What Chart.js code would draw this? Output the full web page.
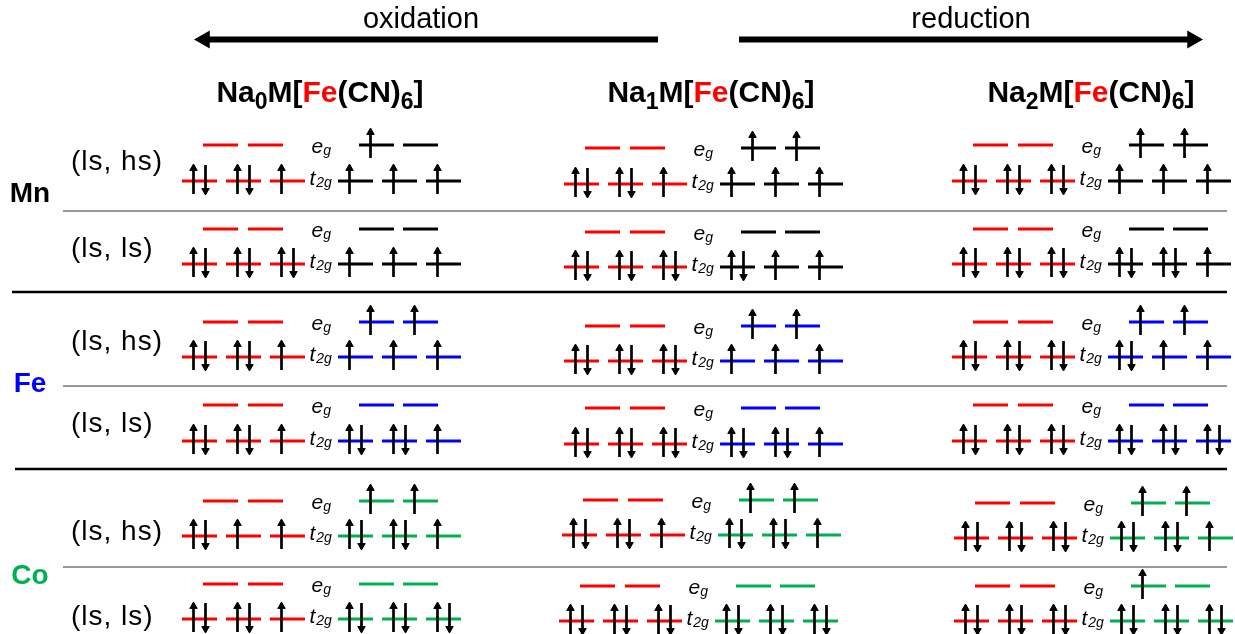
<!DOCTYPE html>
<html lang="en">
<head>
  <meta charset="UTF-8" />
  <title>NaxM[Fe(CN)6] - configurações eletrônicas</title>
  <script src="https://cdn.jsdelivr.net/npm/chart.js"></script>
  <style>
    html, body { margin: 0; padding: 0; background: #fff; }
    .chart-container { width: 1235px; height: 634px; position: relative; }
  </style>
</head>
<body>
  <div class="chart-container"><canvas id="chartOrbitais"></canvas></div>

  <script>
    // ---- dados ----
    const sodium = ['0', '1', '2'];                 // Na_x, one column each
    const metals = ['Mn', 'Fe', 'Co'];
    const spinLabels = ['(ls, hs)', '(ls, ls)'];
    const arrowLabels = ['oxidation', 'reduction'];

    // occupancy per orbital: 0 empty, 1 spin up, 2 paired
    // rows: Mn(ls,hs), Mn(ls,ls), Fe(ls,hs), Fe(ls,ls), Co(ls,hs), Co(ls,ls); cols: Na0, Na1, Na2
    const feEg = [
      [[0, 0], [0, 0], [0, 0]],
      [[0, 0], [0, 0], [0, 0]],
      [[0, 0], [0, 0], [0, 0]],
      [[0, 0], [0, 0], [0, 0]],
      [[0, 0], [0, 0], [0, 0]],
      [[0, 0], [0, 0], [0, 0]]
    ];
    const feT2g = [
      [[2, 2, 1], [2, 2, 1], [2, 2, 2]],
      [[2, 2, 2], [2, 2, 2], [2, 2, 2]],
      [[2, 2, 1], [2, 2, 2], [2, 2, 2]],
      [[2, 2, 1], [2, 2, 2], [2, 2, 2]],
      [[2, 1, 1], [2, 2, 1], [2, 2, 2]],
      [[2, 2, 1], [2, 2, 2], [2, 2, 2]]
    ];
    const mEg = [
      [[1, 0], [1, 1], [1, 1]],
      [[0, 0], [0, 0], [0, 0]],
      [[1, 1], [1, 1], [1, 1]],
      [[0, 0], [0, 0], [0, 0]],
      [[1, 1], [1, 1], [1, 1]],
      [[0, 0], [0, 0], [1, 0]]
    ];
    const mT2g = [
      [[1, 1, 1], [1, 1, 1], [1, 1, 1]],
      [[1, 1, 1], [2, 1, 1], [2, 2, 1]],
      [[1, 1, 1], [1, 1, 1], [2, 1, 1]],
      [[2, 2, 1], [2, 2, 1], [2, 2, 2]],
      [[2, 2, 1], [2, 2, 1], [2, 2, 1]],
      [[2, 2, 2], [2, 2, 2], [2, 2, 2]]
    ];

    // ---- layout (unidades do eixo = px) ----
    const W = 1235, H = 634;
    const colX = [199.5, 581.5, 969.5];
    const titleX = [320, 711, 1091];
    const egY = [145, 229, 322, 405, 501, 584];
    const t2gY = [181, 264, 357, 441, 536, 619];
    const cellDx = [[0, 0, 0], [0, 0, 0], [0, 0, 0], [0, 0, 0], [0, -2, 2], [0, -5, 2]];
    const cellDy = [[0, 3, 0], [0, 3, 0], [0, 4, 0], [0, 3, 0], [0, -1, 2], [0, 2, 2]];
    const feEgDx = [21, 66], feT2gDx = [0, 44, 88];
    const mEgDx = [177, 221], mT2gDx = [156, 200, 244];
    const labelDx = 112;
    const spinY = [170, 257, 350, 432, 540, 625];
    const metalY = [202, 392, 584];
    const thinSep = [211, 386, 567];
    const thickSep = [[12, 292], [15, 469]];
    const arrowY = 39.5, BIG_R = 10.5;
    const metalCor = ['#000000', '#0000ff', '#00b050'];
    const VERMELHO = '#ff0000';
    const HALF = 17.5, R = 4.3;
    const FONT = '"Liberation Sans", Arial, sans-serif';

    const rowMetal = [0, 0, 1, 1, 2, 2];

    const redLines = [], mLines = [[], [], []], shafts = [], heads = [], headRot = [];

    function seg(arr, cx, y) {
      arr.push({ x: cx - HALF, y: y }, { x: cx + HALF, y: y }, { x: cx + HALF, y: null });
    }
    function spins(n, cx, y) {
      if (n >= 1) {
        shafts.push({ x: cx - 6, y: y + 13 }, { x: cx - 6, y: y - 17 + R }, { x: cx - 6, y: null });
        heads.push({ x: cx - 6, y: y - 17 + R }); headRot.push(0);
      }
      if (n === 2) {
        shafts.push({ x: cx + 6, y: y - 16 }, { x: cx + 6, y: y + 14 - R }, { x: cx + 6, y: null });
        heads.push({ x: cx + 6, y: y + 14 - R }); headRot.push(180);
      }
    }

    for (let r = 0; r < 6; r++) {
      for (let c = 0; c < 3; c++) {
        const x0 = colX[c] + cellDx[r][c];
        const ye = egY[r] + cellDy[r][c], yt = t2gY[r] + cellDy[r][c];
        feEgDx.forEach((dx, k) => { seg(redLines, x0 + dx, ye); spins(feEg[r][c][k], x0 + dx, ye); });
        feT2gDx.forEach((dx, k) => { seg(redLines, x0 + dx, yt); spins(feT2g[r][c][k], x0 + dx, yt); });
        mEgDx.forEach((dx, k) => { seg(mLines[rowMetal[r]], x0 + dx, ye); spins(mEg[r][c][k], x0 + dx, ye); });
        mT2gDx.forEach((dx, k) => { seg(mLines[rowMetal[r]], x0 + dx, yt); spins(mT2g[r][c][k], x0 + dx, yt); });
      }
    }

    const thinLines = [], thickLines = [];
    thinSep.forEach(y => thinLines.push({ x: 63, y: y }, { x: 1227, y: y }, { x: 1227, y: null }));
    thickSep.forEach(s => thickLines.push({ x: s[0], y: s[1] }, { x: 1227, y: s[1] }, { x: 1227, y: null }));

    // setas oxidation (esq.) e reduction (dir.)
    const bigShafts = [{ x: 658, y: arrowY }, { x: 194 + BIG_R, y: arrowY }, { x: 194, y: null },
                       { x: 739, y: arrowY }, { x: 1203 - BIG_R, y: arrowY }];
    const bigHeads = [{ x: 194 + BIG_R, y: arrowY }, { x: 1203 - BIG_R, y: arrowY }];

    function linha(label, data, cor, larg, ordem) {
      return { label: label, data: data, showLine: true, borderColor: cor, borderWidth: larg,
               pointRadius: 0, spanGaps: false, tension: 0, fill: false, order: ordem, clip: false };
    }

    function richText(ctx, parts, cx, baseline) {
      let total = 0;
      parts.forEach(p => { ctx.font = p.font; p.w = ctx.measureText(p.t).width; total += p.w; });
      let x = cx - total / 2;
      parts.forEach(p => {
        ctx.font = p.font;
        ctx.fillStyle = p.c || '#000';
        ctx.fillText(p.t, x, baseline + (p.dy || 0));
        x += p.w;
      });
    }

    const rotulos = {
      id: 'rotulos',
      afterDatasetsDraw(chart) {
        const ctx = chart.ctx;
        const px = v => chart.scales.x.getPixelForValue(v);
        const py = v => chart.scales.y.getPixelForValue(v);
        ctx.save();
        ctx.textBaseline = 'alphabetic';
        ctx.fillStyle = '#000';
        ctx.font = '29px ' + FONT;
        ctx.textAlign = 'center';
        ctx.fillText(arrowLabels[0], px(421), py(28));
        ctx.fillText(arrowLabels[1], px(971), py(28));
        ctx.textAlign = 'left';

        const big = 'bold 30px ' + FONT, sub = 'bold 23px ' + FONT;
        sodium.forEach((n, i) => {
          richText(ctx, [
            { t: 'Na', font: big }, { t: n, font: sub, dy: 6.5 }, { t: 'M[', font: big },
            { t: 'Fe', font: big, c: VERMELHO }, { t: '(CN)', font: big },
            { t: '6', font: sub, dy: 6.5 }, { t: ']', font: big }
          ], px(titleX[i]), py(102));
        });

        ctx.textAlign = 'center';
        ctx.font = 'bold 28px ' + FONT;
        metals.forEach((m, i) => {
          ctx.fillStyle = metalCor[i];
          ctx.fillText(m, px(30), py(metalY[i]));
        });

        ctx.textAlign = 'left';
        ctx.fillStyle = '#000';
        ctx.font = '28px ' + FONT;
        if ('letterSpacing' in ctx) ctx.letterSpacing = '1px';
        spinY.forEach((y, r) => ctx.fillText(spinLabels[r % 2], px(71), py(y)));
        if ('letterSpacing' in ctx) ctx.letterSpacing = '0px';

        const it = 'italic 21px ' + FONT, itSub = 'italic 14px ' + FONT;
        for (let r = 0; r < 6; r++) {
          for (let c = 0; c < 3; c++) {
            const lx = px(colX[c] + cellDx[r][c] + labelDx);
            const ye = egY[r] + cellDy[r][c], yt = t2gY[r] + cellDy[r][c];
            ctx.font = it; ctx.fillText('e', lx, py(ye + 8));
            let w = ctx.measureText('e').width;
            ctx.font = itSub; ctx.fillText('g', lx + w, py(ye + 10));
            ctx.font = it; ctx.fillText('t', lx - 2, py(yt + 4));
            w = ctx.measureText('t').width;
            ctx.font = itSub; ctx.fillText('2g', lx - 2 + w + 1, py(yt + 6));
          }
        }
        ctx.restore();
      }
    };

    new Chart(document.getElementById('chartOrbitais').getContext('2d'), {
      type: 'scatter',
      data: {
        datasets: [
          linha('Fe (low spin)', redLines, VERMELHO, 3, 3),
          linha('Mn', mLines[0], metalCor[0], 3, 3),
          linha('Fe', mLines[1], metalCor[1], 3, 3),
          linha('Co', mLines[2], metalCor[2], 3, 3),
          linha('separadores', thinLines, '#777777', 1.5, 4),
          linha('separadores grossos', thickLines, '#000000', 2.5, 4),
          linha('eletrons', shafts, '#000000', 2.7, 1),
          {
            label: 'pontas', data: heads, showLine: false, order: 0, clip: false,
            pointStyle: 'triangle', pointRadius: R, pointRotation: headRot,
            pointBackgroundColor: '#000', pointBorderColor: '#000', pointBorderWidth: 1
          },
          linha('setas', bigShafts, '#000000', 6, 1),
          {
            label: 'pontas setas', data: bigHeads, showLine: false, order: 0, clip: false,
            pointStyle: 'triangle', pointRadius: BIG_R, pointRotation: [-90, 90],
            pointBackgroundColor: '#000', pointBorderColor: '#000', pointBorderWidth: 0
          }
        ]
      },
      options: {
        responsive: true,
        maintainAspectRatio: false,
        animation: false,
        events: [],
        layout: { padding: 0, autoPadding: false },
        scales: {
          x: { type: 'linear', min: 0, max: W, display: false },
          y: { type: 'linear', min: 0, max: H, reverse: true, display: false }
        },
        plugins: { legend: { display: false }, tooltip: { enabled: false } }
      },
      plugins: [rotulos]
    });
  </script>
</body>
</html>
